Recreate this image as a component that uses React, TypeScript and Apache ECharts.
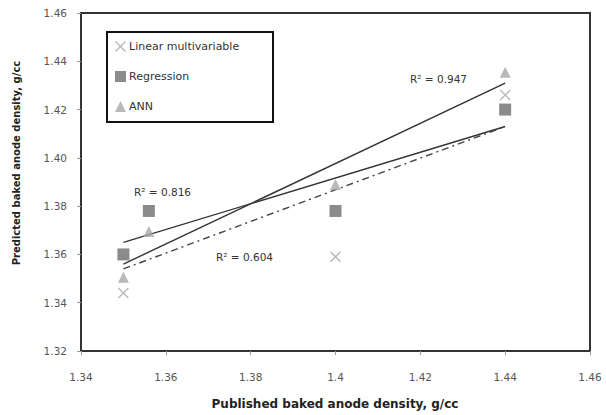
import React, { useEffect, useRef } from "react";
import * as echarts from "echarts";

const linearX = [1.35, 1.4, 1.44];
const linearY = [1.344, 1.359, 1.426];
const regressionX = [1.35, 1.356, 1.4, 1.44];
const regressionY = [1.36, 1.378, 1.378, 1.42];
const annX = [1.35, 1.356, 1.4, 1.44];
const annY = [1.3505, 1.3695, 1.389, 1.4355];

const trendX = [1.35, 1.44];
const trendAnn = [1.356, 1.431];
const trendRegression = [1.365, 1.413];
const trendLinear = [1.354, 1.413];

const r2Labels = ["R² = 0.947", "R² = 0.816", "R² = 0.604"];
const xTitle = "Published baked anode density, g/cc";
const yTitle = "Predicted baked anode density, g/cc";

const FONT = "'DejaVu Sans', sans-serif";
const CROSS =
  "path://M0,0.9 L0.9,0 L5,4.1 L9.1,0 L10,0.9 L5.9,5 L10,9.1 L9.1,10 L5,5.9 L0.9,10 L0,9.1 L4.1,5 Z";

const pairs = (xs: number[], ys: number[]) => xs.map((x, i) => [x, ys[i]]);

export default function App() {
  const ref = useRef<HTMLDivElement>(null);
  useEffect(() => {
    const chart = echarts.init(ref.current!, null, { renderer: "svg" });
    chart.setOption({
      animation: false,
      backgroundColor: "#fff",
      textStyle: { fontFamily: FONT },
      grid: {
        left: 81,
        right: 16,
        top: 13,
        bottom: 64,
        show: true,
        borderColor: "#333",
        borderWidth: 2,
      },
      xAxis: {
        type: "value",
        min: 1.34,
        max: 1.46,
        interval: 0.02,
        axisLine: { show: true, lineStyle: { color: "#333", width: 2 } },
        axisTick: { show: true, length: 4, lineStyle: { color: "#999" } },
        splitLine: { show: false },
        axisLabel: {
          color: "#555",
          fontSize: 10.5,
          margin: 20,
          fontFamily: FONT,
          formatter: (v: number) => String(parseFloat(v.toFixed(2))),
        },
      },
      yAxis: {
        type: "value",
        min: 1.32,
        max: 1.46,
        interval: 0.02,
        axisLine: { show: true, lineStyle: { color: "#333", width: 2 } },
        axisTick: { show: true, length: 4, lineStyle: { color: "#999" } },
        splitLine: { show: false },
        axisLabel: {
          color: "#555",
          fontSize: 10.5,
          margin: 14,
          fontFamily: FONT,
          formatter: (v: number) => v.toFixed(2),
        },
      },
      legend: {
        orient: "vertical",
        left: 110,
        top: 36,
        itemWidth: 11,
        itemHeight: 11,
        itemGap: 19,
        data: ["Linear multivariable", "Regression", "ANN"],
        textStyle: { fontSize: 11, color: "#333", fontFamily: FONT, padding: [0, 0, 0, -2] },
      },
      graphic: [
        {
          type: "rect",
          shape: { x: 107, y: 32, width: 166, height: 90 },
          style: { fill: "none", stroke: "#111", lineWidth: 2 },
          z: 10,
        },
        {
          type: "text",
          x: 335,
          y: 404,
          style: {
            text: xTitle,
            fontSize: 12,
            fontWeight: "bold",
            fill: "#222",
            fontFamily: FONT,
            align: "center",
            verticalAlign: "middle",
          },
        },
        {
          type: "text",
          x: 16,
          y: 163,
          rotation: Math.PI / 2,
          style: {
            text: yTitle,
            fontSize: 10,
            fontWeight: "bold",
            fill: "#222",
            fontFamily: FONT,
            align: "center",
            verticalAlign: "middle",
          },
        },
        {
          type: "text",
          x: 410,
          y: 73,
          style: { text: r2Labels[0], fontSize: 10.5, fill: "#333", fontFamily: FONT },
        },
        {
          type: "text",
          x: 134,
          y: 186,
          style: { text: r2Labels[1], fontSize: 10.5, fill: "#333", fontFamily: FONT },
        },
        {
          type: "text",
          x: 216,
          y: 251,
          style: { text: r2Labels[2], fontSize: 10.5, fill: "#333", fontFamily: FONT },
        },
      ],
      series: [
        {
          name: "Linear multivariable",
          type: "scatter",
          symbol: CROSS,
          symbolSize: 11,
          itemStyle: { color: "#a8a8a8" },
          data: pairs(linearX, linearY),
          z: 3,
        },
        {
          name: "Regression",
          type: "scatter",
          symbol: "rect",
          symbolSize: 12,
          itemStyle: { color: "#6e6e6e" },
          data: pairs(regressionX, regressionY),
          z: 3,
        },
        {
          name: "ANN",
          type: "scatter",
          symbol: "triangle",
          symbolSize: 11,
          itemStyle: { color: "#a8a8a8" },
          data: pairs(annX, annY),
          z: 3,
        },
        {
          name: "trendAnn",
          type: "line",
          symbol: "none",
          lineStyle: { color: "#333", width: 1.4 },
          data: pairs(trendX, trendAnn),
          z: 2,
        },
        {
          name: "trendRegression",
          type: "line",
          symbol: "none",
          lineStyle: { color: "#333", width: 1.4 },
          data: pairs(trendX, trendRegression),
          z: 2,
        },
        {
          name: "trendLinear",
          type: "line",
          symbol: "none",
          lineStyle: { color: "#444", width: 1.4, type: [7, 4, 2, 4] },
          data: pairs(trendX, trendLinear),
          z: 2,
        },
      ],
    });
    return () => chart.dispose();
  }, []);
  return <div ref={ref} style={{ width: 606, height: 415, position: "absolute", left: 0, top: 0 }} />;
}
